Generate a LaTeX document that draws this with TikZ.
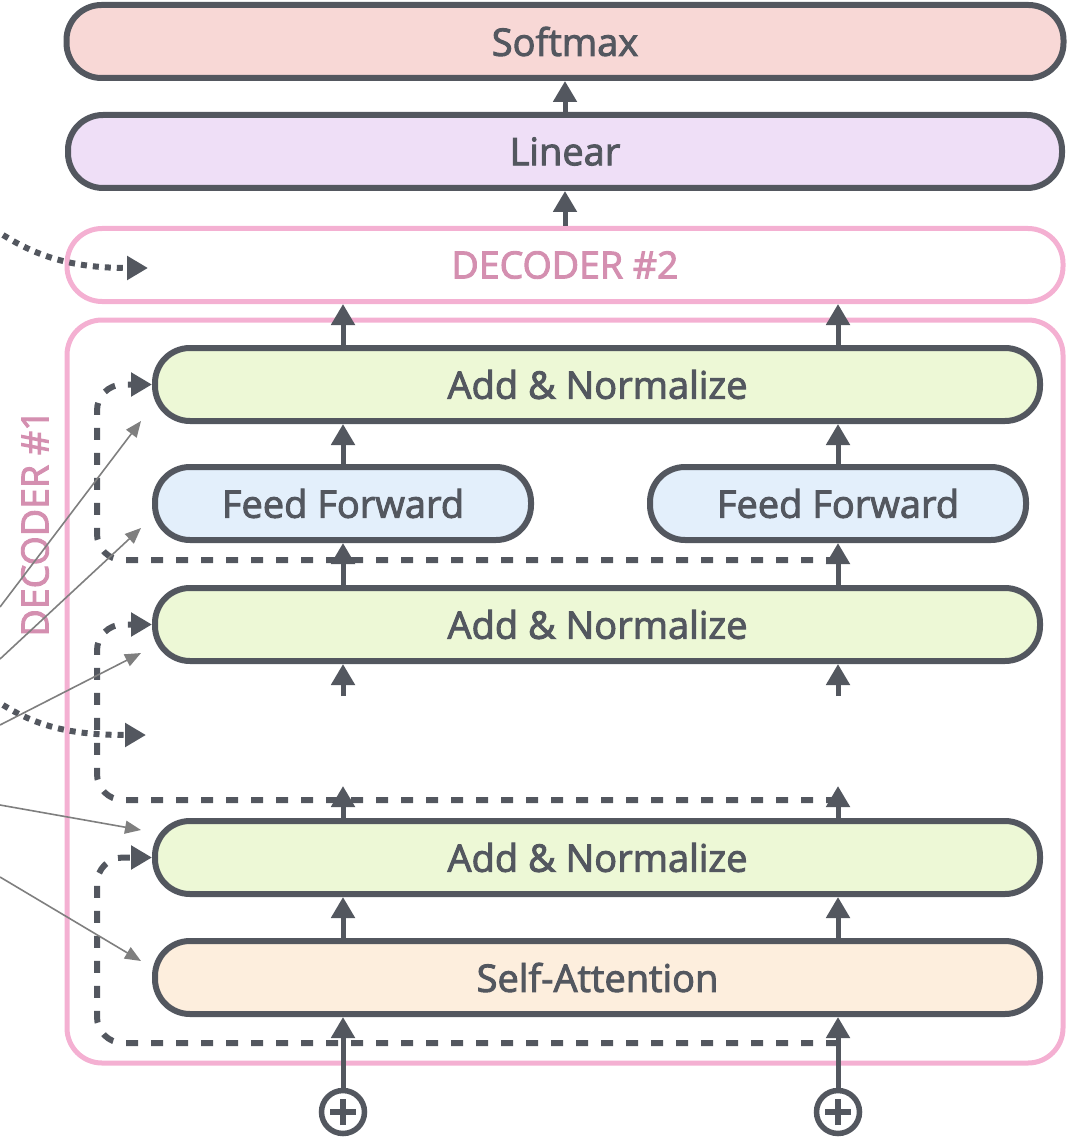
\documentclass[tikz,border=0pt]{standalone}
\usepackage{fontspec}
\setmainfont{Open Sans}
\newfontfamily\semib{Open Sans}[FakeBold=2.5]
\usetikzlibrary{arrows.meta}
\definecolor{dk}{HTML}{53575F}
\definecolor{pinkline}{HTML}{F4B0D2}
\definecolor{pinktext}{HTML}{D48FB0}
\definecolor{fsoft}{HTML}{F8D8D6}
\definecolor{flin}{HTML}{EFDFF7}
\definecolor{fadd}{HTML}{EDF8D6}
\definecolor{fff}{HTML}{E3EFFB}
\definecolor{fsa}{HTML}{FDEEDD}
\definecolor{annc}{HTML}{7F7F7F}
\begin{document}
\begin{tikzpicture}[x=1pt,y=-1pt,
  box/.style={draw=dk, line width=6pt, rounded corners=35pt, text=dk,
    font=\semib\fontsize{38}{40}\selectfont, inner sep=0pt, minimum height=73pt},
  pinkbox/.style={draw=pinkline, line width=5pt, rounded corners=35pt, inner sep=0pt},
  arr/.style={draw=dk, line width=5pt, -{Triangle[length=21pt,width=23pt]}},
  res/.style={draw=dk, line width=6pt, dash pattern=on 12pt off 13pt, rounded corners=26pt,
    -{Triangle[length=21pt,width=23pt]}},
  enc/.style={draw=dk, line width=6pt, dash pattern=on 6pt off 6pt,
    -{Triangle[length=21pt,width=23pt]}},
  ann/.style={draw=annc, line width=1.6pt, -{Triangle[length=16pt,width=13pt]}},
  plus/.style={circle, draw=dk, line width=5.5pt, minimum size=43pt, inner sep=0pt},
  lab/.style={text=pinktext, font=\semib\fontsize{37.5}{40}\selectfont}
]
\useasboundingbox (0,0) rectangle (1069,1139);

% outer decoder frames
\node[pinkbox, minimum width=996pt, minimum height=743pt] (dec1) at (565,691.5) {};
\node[pinkbox, lab, minimum width=996pt, minimum height=73pt] (dec2) at (565,265) {DECODER \#2};
\node[lab, rotate=90] (dec1lab) at (35,523) {DECODER \#1};

% boxes
\node[box, fill=fsoft, minimum width=997pt] (softmax) at (565,41.5) {Softmax};
\node[box, fill=flin, minimum width=994pt] (linear) at (565,151.5) {Linear};
\node[box, fill=fadd, minimum width=885pt] (an3) at (597.5,384.5) {Add \& Normalize};
\node[box, fill=fff, minimum width=376pt] (ff1) at (343,503.5) {Feed Forward};
\node[box, fill=fff, minimum width=376pt] (ff2) at (838,503.5) {Feed Forward};
\node[box, fill=fadd, minimum width=885pt] (an2) at (597.5,624.5) {Add \& Normalize};
\node[box, fill=fadd, minimum width=885pt] (an1) at (597.5,857.5) {Add \& Normalize};
\node[box, fill=fsa, minimum width=885pt] (sa) at (597.5,977.5) {Self-Attention};

% plus symbols
\node[plus] (p1) at (343,1112) {};
\node[plus] (p2) at (838,1112) {};
\draw[dk, line width=5.5pt] ([yshift=-13pt]p1.center) -- ([yshift=13pt]p1.center)
  ([xshift=-13pt]p1.center) -- ([xshift=13pt]p1.center);
\draw[dk, line width=5.5pt] ([yshift=-13pt]p2.center) -- ([yshift=13pt]p2.center)
  ([xshift=-13pt]p2.center) -- ([xshift=13pt]p2.center);

% residual (dashed) connections
\coordinate (r1) at (838,1043);
\coordinate (r2) at (838,800);
\coordinate (r3) at (838,560);
\draw[res] (r1) -- (97,1043) -- (97,857.5) -- (an1.west);
\draw[res] (r2) -- (97,800) -- (97,624.5) -- (an2.west);
\draw[res] (r3) -- (97,560) -- (97,384.5) -- (an3.west);

% main flow arrows
\coordinate (t1) at (343,786);
\coordinate (t2) at (838,786);
\coordinate (b1) at (343,696);
\coordinate (b2) at (838,696);
\draw[arr] (p1) -- (sa.south -| p1);
\draw[arr] (p2) -- (sa.south -| p2);
\draw[arr] (sa.north -| p1) -- (an1.south -| p1);
\draw[arr] (sa.north -| p2) -- (an1.south -| p2);
\draw[arr] (an1.north -| p1) -- (t1);
\draw[arr] (an1.north -| p2) -- (t2);
\draw[arr] (b1) -- (an2.south -| p1);
\draw[arr] (b2) -- (an2.south -| p2);
\draw[arr] (an2.north -| ff1) -- (ff1.south);
\draw[arr] (an2.north -| ff2) -- (ff2.south);
\draw[arr] (ff1.north) -- (an3.south -| ff1);
\draw[arr] (ff2.north) -- (an3.south -| ff2);
\draw[arr] (an3.north -| ff1) -- (dec2.south -| ff1);
\draw[arr] (an3.north -| ff2) -- (dec2.south -| ff2);
\draw[arr] (dec2.north) -- (linear.south);
\draw[arr] (linear.north) -- (softmax.south);

% encoder (dotted) inputs
\coordinate (e2s) at (3,235);
\coordinate (e2t) at (148,268);
\coordinate (e1s) at (3,705);
\coordinate (e1t) at (146,735);
\draw[enc] (e2s) .. controls (40,258) and (75,268) .. (e2t);
\draw[enc] (e1s) .. controls (40,728) and (75,735) .. (e1t);

% thin annotation arrows
\coordinate (a1s) at (0,607);  \coordinate (a1t) at (141,421);
\coordinate (a2s) at (0,659);  \coordinate (a2t) at (141,528);
\coordinate (a3s) at (0,725);  \coordinate (a3t) at (141,653);
\coordinate (a4s) at (0,805);  \coordinate (a4t) at (141,830);
\coordinate (a5s) at (0,877);  \coordinate (a5t) at (141,961);
\draw[ann] (a1s) -- (a1t);
\draw[ann] (a2s) -- (a2t);
\draw[ann] (a3s) -- (a3t);
\draw[ann] (a4s) -- (a4t);
\draw[ann] (a5s) -- (a5t);
\end{tikzpicture}
\end{document}
